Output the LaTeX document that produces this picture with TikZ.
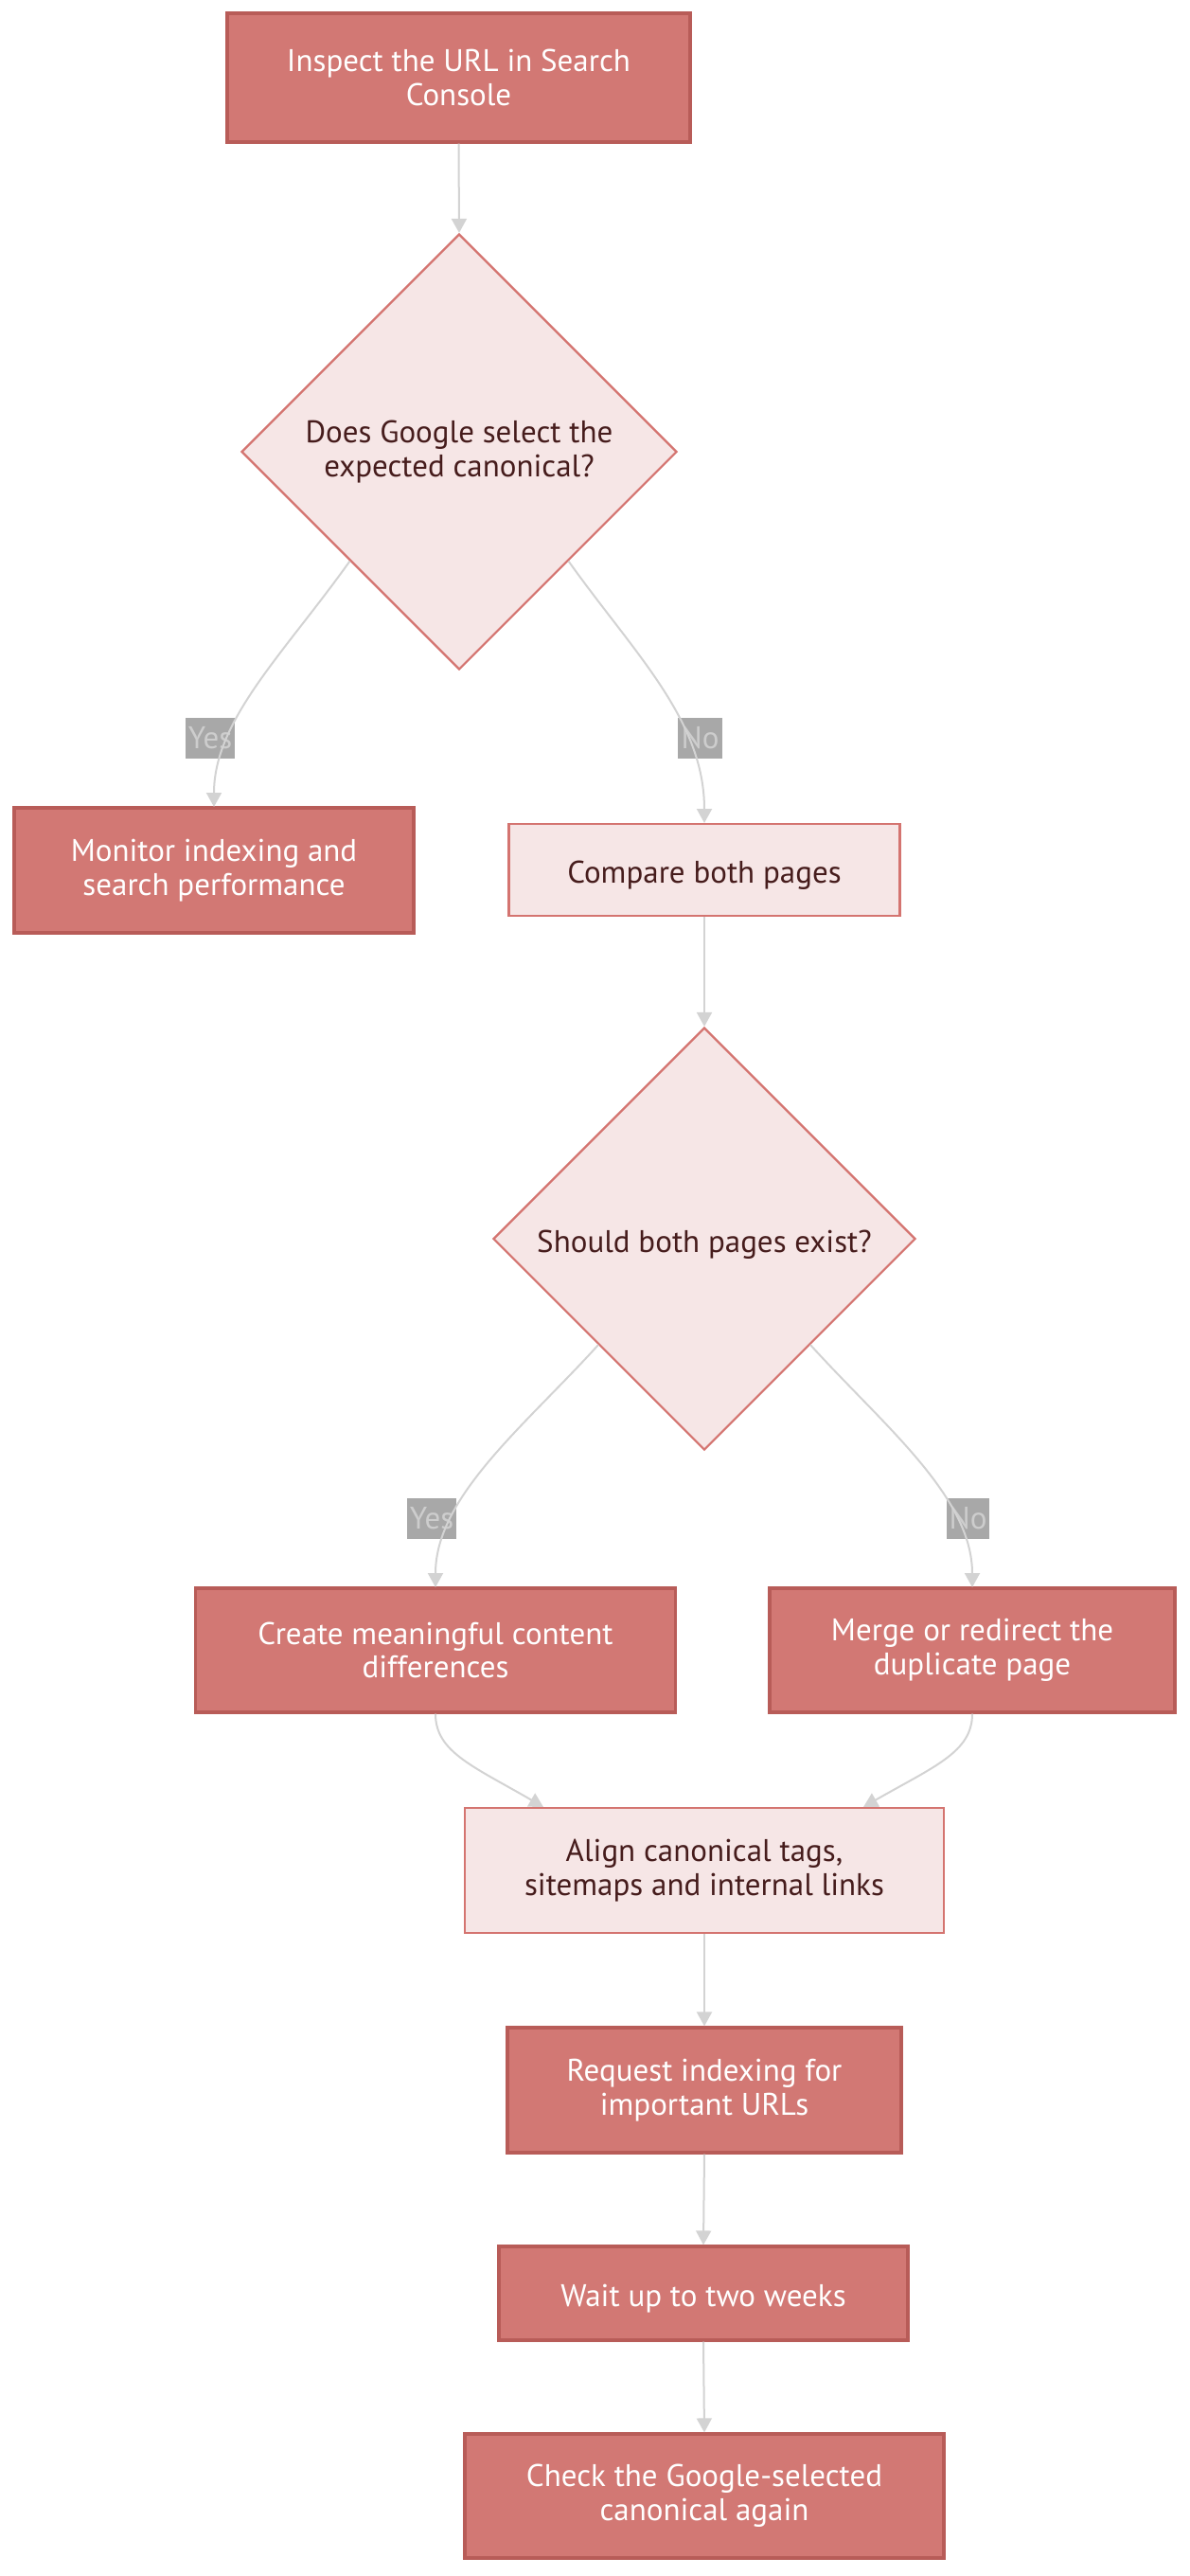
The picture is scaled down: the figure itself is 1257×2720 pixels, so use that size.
\documentclass[tikz,border=0pt]{standalone}
\usepackage{fontspec}
\setmainfont{PT Sans}
\usetikzlibrary{shapes.geometric,arrows.meta}
\definecolor{darkfill}{RGB}{210,120,116}
\definecolor{darkstroke}{RGB}{184,92,88}
\definecolor{lightfill}{RGB}{246,230,230}
\definecolor{lightstroke}{RGB}{212,116,112}
\definecolor{lighttext}{RGB}{70,28,28}
\definecolor{edgecol}{RGB}{211,211,211}
\definecolor{lblbg}{RGB}{168,168,168}
\definecolor{lbltext}{RGB}{205,205,205}
\tikzset{
  lowered/.style={execute at begin node={\rule{0pt}{17.5pt}}},
  base/.style={rectangle, align=center, inner sep=0pt, lowered, font=\fontsize{16.5}{17.8}\selectfont},
  darkbox/.style={base, fill=darkfill, draw=darkstroke, line width=1.6pt, text=white},
  lightbox/.style={base, fill=lightfill, draw=lightstroke, line width=1.3pt, text=lighttext},
  decision/.style={diamond, aspect=1, align=center, inner sep=0pt, lowered, fill=lightfill, draw=lightstroke, line width=1.1pt, text=lighttext, font=\fontsize{16.5}{17.8}\selectfont},
  lbl/.style={rectangle, fill=lblbg, text=lbltext, inner sep=0pt, minimum height=21.5pt, font=\fontsize{16.5}{17.8}\selectfont},
  conn/.style={draw=edgecol, line width=1pt, -{Triangle[length=7.5pt,width=8pt]}},
}
\begin{document}
\begin{tikzpicture}[x=0.5pt,y=-0.5pt]
\useasboundingbox (0,0) rectangle (1257,2720);
\node[darkbox, minimum width=244.5pt, minimum height=68pt] (inspect) at (484.5,82) {Inspect the URL in Search\\Console};
\node[decision, minimum width=230pt, minimum height=230pt] (d1) at (485,477) {Does Google select the\\expected canonical?};
\node[darkbox, minimum width=211pt, minimum height=66pt] (monitor) at (226,919) {Monitor indexing and\\search performance};
\node[lightbox, minimum width=206.5pt, minimum height=48.5pt] (compare) at (744,918.5) {Compare both pages};
\node[decision, minimum width=223pt, minimum height=223pt] (d2) at (744,1308) {Should both pages exist?};
\node[darkbox, minimum width=253.5pt, minimum height=65.5pt] (create) at (460,1742.5) {Create meaningful content\\differences};
\node[darkbox, minimum width=214pt, minimum height=65.5pt] (merge) at (1027,1742.5) {Merge or redirect the\\duplicate page};
\node[lightbox, minimum width=253pt, minimum height=66pt] (align) at (744,1975) {Align canonical tags,\\sitemaps and internal links};
\node[darkbox, minimum width=208pt, minimum height=66pt] (request) at (744,2207) {Request indexing for\\important URLs};
\node[darkbox, minimum width=216pt, minimum height=49.5pt] (wait) at (743,2421.5) {Wait up to two weeks};
\node[darkbox, minimum width=253pt, minimum height=65.5pt] (check) at (744,2635.5) {Check the Google-selected\\canonical again};
\node[lbl, minimum width=26pt] (yes1) at (222,779) {Yes};
\node[lbl, minimum width=23.5pt] (no1) at (739.5,779) {No};
\node[lbl, minimum width=26pt] (yes2) at (456,1603) {Yes};
\node[lbl, minimum width=22.5pt] (no2) at (1022.5,1603) {No};
\coordinate (m1) at (226,852);
\coordinate (c1) at (744,869);
\coordinate (cr1) at (460,1676);
\coordinate (mg1) at (1027,1676);
\coordinate (al1) at (574,1908);
\coordinate (al2) at (912,1908);
\draw[conn] (inspect.south) -- (d1.north);
\draw[conn] (d1.south west) .. controls (300,690) and (226,760) .. (m1);
\draw[conn] (d1.south east) .. controls (670,690) and (744,760) .. (c1);
\draw[conn] (compare.south) -- (d2.north);
\draw[conn] (d2.south west) .. controls (555,1505) and (460,1580) .. (cr1);
\draw[conn] (d2.south east) .. controls (933,1505) and (1027,1580) .. (mg1);
\draw[conn] (create.south) .. controls (460,1850) and (500,1865) .. (al1);
\draw[conn] (merge.south) .. controls (1027,1850) and (987,1865) .. (al2);
\draw[conn] (align.south) -- (request.north);
\draw[conn] (request.south) -- (wait.north);
\draw[conn] (wait.south) -- (check.north);
\end{tikzpicture}
\end{document}
